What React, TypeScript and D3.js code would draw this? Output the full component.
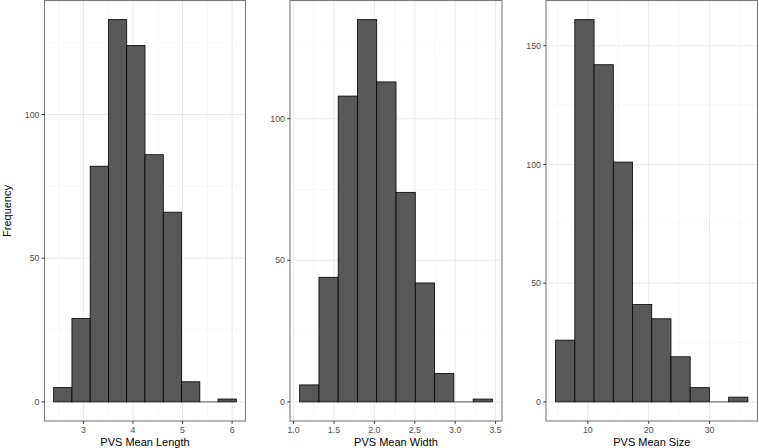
import React from "react";
import * as d3 from "d3";

const lengthEdges = [2.4, 2.769, 3.137, 3.506, 3.874, 4.243, 4.612, 4.98, 5.349, 5.717, 6.086];
const lengthCounts = [5, 29, 82, 133, 124, 86, 66, 7, 0, 1];
const lengthTicks = [3, 4, 5, 6];
const lengthMinor = [2.5, 3.5, 4.5, 5.5];

const widthEdges = [1.075, 1.314, 1.552, 1.791, 2.029, 2.268, 2.506, 2.745, 2.983, 3.222, 3.46];
const widthCounts = [6, 44, 108, 135, 113, 74, 42, 10, 0, 1];
const widthTicks = [1.0, 1.5, 2.0, 2.5, 3.0, 3.5];
const widthMinor = [1.25, 1.75, 2.25, 2.75, 3.25];

const sizeEdges = [4.7, 7.86, 11.02, 14.18, 17.34, 20.5, 23.66, 26.82, 29.98, 33.14, 36.3];
const sizeCounts = [26, 161, 142, 101, 41, 35, 19, 6, 0, 2];
const sizeTicks = [10, 20, 30];
const sizeMinor = [5, 15, 25, 35];

const yTicksAB = [0, 50, 100];
const yMinorAB = [25, 75, 125];
const yTicksC = [0, 50, 100, 150];
const yMinorC = [25, 75, 125];

const titles = ["PVS Mean Length", "PVS Mean Width", "PVS Mean Size"];

const FONT = "'Liberation Sans', Arial, Helvetica, sans-serif";
const W = 759;
const H = 448;
const TOP = 0.5;
const BOTTOM = 421;

type PanelProps = {
  x0: number;
  x1: number;
  edges: number[];
  counts: number[];
  xTicks: number[];
  xMinor: number[];
  yTicks: number[];
  yMinor: number[];
  title: string;
  fmt: (v: number) => string;
};

function Panel({ x0, x1, edges, counts, xTicks, xMinor, yTicks, yMinor, title, fmt }: PanelProps) {
  const lo = edges[0];
  const hi = edges[edges.length - 1];
  const padX = (hi - lo) * 0.05;
  const maxC = d3.max(counts) as number;
  const padY = maxC * 0.05;
  const x = d3.scaleLinear().domain([lo - padX, hi + padX]).range([x0, x1]);
  const y = d3.scaleLinear().domain([-padY, maxC + padY]).range([BOTTOM, TOP]);
  const bins = counts.map((c, i) => ({ a: edges[i], b: edges[i + 1], c }));
  return (
    <g>
      <rect x={x0} y={TOP} width={x1 - x0} height={BOTTOM - TOP} fill="#ffffff" />
      {yMinor.map((v) => (
        <line key={"ym" + v} x1={x0} x2={x1} y1={y(v)} y2={y(v)} stroke="#f2f2f2" strokeWidth={0.6} />
      ))}
      {xMinor.map((v) => (
        <line key={"xm" + v} x1={x(v)} x2={x(v)} y1={TOP} y2={BOTTOM} stroke="#f2f2f2" strokeWidth={0.6} />
      ))}
      {yTicks.map((v) => (
        <line key={"yg" + v} x1={x0} x2={x1} y1={y(v)} y2={y(v)} stroke="#ebebeb" strokeWidth={1.1} />
      ))}
      {xTicks.map((v) => (
        <line key={"xg" + v} x1={x(v)} x2={x(v)} y1={TOP} y2={BOTTOM} stroke="#ebebeb" strokeWidth={1.1} />
      ))}
      {bins.map((b, i) =>
        b.c === 0 ? (
          <line
            key={"b" + i}
            x1={x(b.a)}
            x2={x(b.b)}
            y1={y(0)}
            y2={y(0)}
            stroke="#595959"
            strokeWidth={1}
          />
        ) : (
          <rect
            key={"b" + i}
            x={x(b.a)}
            y={y(b.c)}
            width={x(b.b) - x(b.a)}
            height={y(0) - y(b.c)}
            fill="#595959"
            stroke="#000000"
            strokeWidth={0.8}
          />
        )
      )}
      <rect x={x0} y={TOP} width={x1 - x0} height={BOTTOM - TOP} fill="none" stroke="#7a7a7a" strokeWidth={1.1} />
      {yTicks.map((v) => (
        <g key={"yt" + v}>
          <line x1={x0 - 2.75} x2={x0} y1={y(v)} y2={y(v)} stroke="#333333" strokeWidth={1} />
          <text x={x0 - 5} y={y(v)} dy="0.35em" textAnchor="end" fontSize={8.8} fill="#4d4d4d" fontFamily={FONT}>
            {v}
          </text>
        </g>
      ))}
      {xTicks.map((v) => (
        <g key={"xt" + v}>
          <line x1={x(v)} x2={x(v)} y1={BOTTOM} y2={BOTTOM + 2.75} stroke="#333333" strokeWidth={1} />
          <text x={x(v)} y={BOTTOM + 12} textAnchor="middle" fontSize={8.8} fill="#4d4d4d" fontFamily={FONT}>
            {fmt(v)}
          </text>
        </g>
      ))}
      <text x={(x0 + x1) / 2} y={446} textAnchor="middle" fontSize={11} fill="#000000" fontFamily={FONT}>
        {title}
      </text>
    </g>
  );
}

export default function App() {
  return (
    <svg
      width={W}
      height={H}
      viewBox={`0 0 ${W} ${H}`}
      style={{ position: "fixed", left: 0, top: 0, background: "#ffffff" }}
    >
      <rect x={0} y={0} width={W} height={H} fill="#ffffff" />
      <text
        transform={`translate(11, 211) rotate(-90)`}
        textAnchor="middle"
        fontSize={11}
        fill="#000000"
        fontFamily={FONT}
      >
        Frequency
      </text>
      <Panel
        x0={44.5}
        x1={245.5}
        edges={lengthEdges}
        counts={lengthCounts}
        xTicks={lengthTicks}
        xMinor={lengthMinor}
        yTicks={yTicksAB}
        yMinor={yMinorAB}
        title={titles[0]}
        fmt={(v) => String(v)}
      />
      <Panel
        x0={290}
        x1={502}
        edges={widthEdges}
        counts={widthCounts}
        xTicks={widthTicks}
        xMinor={widthMinor}
        yTicks={yTicksAB}
        yMinor={yMinorAB}
        title={titles[1]}
        fmt={(v) => v.toFixed(1)}
      />
      <Panel
        x0={546}
        x1={757.5}
        edges={sizeEdges}
        counts={sizeCounts}
        xTicks={sizeTicks}
        xMinor={sizeMinor}
        yTicks={yTicksC}
        yMinor={yMinorC}
        title={titles[2]}
        fmt={(v) => String(v)}
      />
    </svg>
  );
}
